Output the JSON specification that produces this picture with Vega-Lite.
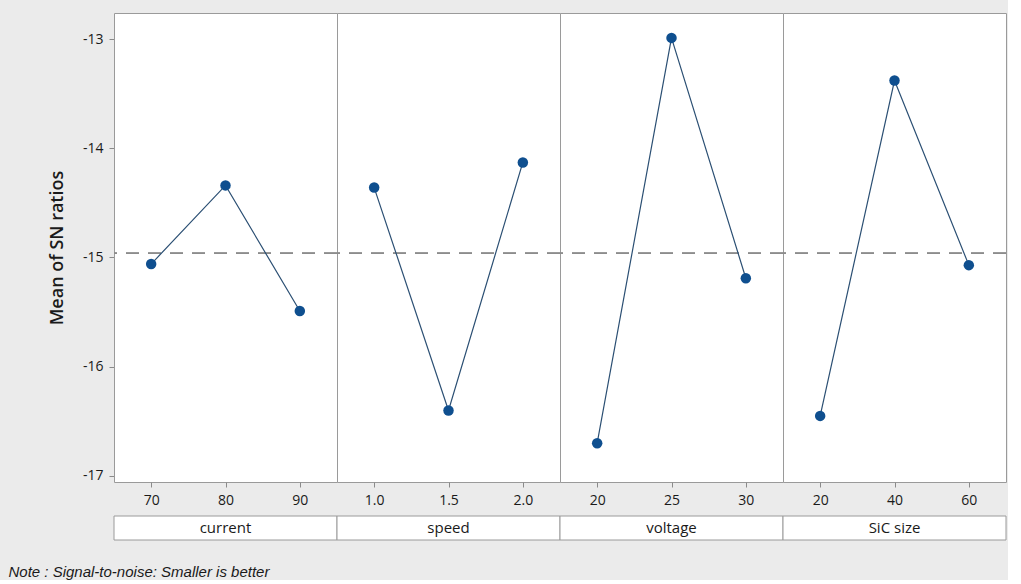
{
  "$schema": "https://vega.github.io/schema/vega-lite/v6.json",
  "background": "#ebebeb",
  "padding": {"left": 8, "top": 12, "right": 0, "bottom": 0},
  "datasets": {
    "effects": [
      {"factor": "current", "level": "70", "sn": -15.06},
      {"factor": "current", "level": "80", "sn": -14.34},
      {"factor": "current", "level": "90", "sn": -15.49},
      {"factor": "speed", "level": "1.0", "sn": -14.36},
      {"factor": "speed", "level": "1.5", "sn": -16.40},
      {"factor": "speed", "level": "2.0", "sn": -14.13},
      {"factor": "voltage", "level": "20", "sn": -16.70},
      {"factor": "voltage", "level": "25", "sn": -12.99},
      {"factor": "voltage", "level": "30", "sn": -15.19},
      {"factor": "SiC size", "level": "20", "sn": -16.45},
      {"factor": "SiC size", "level": "40", "sn": -13.38},
      {"factor": "SiC size", "level": "60", "sn": -15.07}
    ],
    "factors": [
      {"factor": "current"},
      {"factor": "speed"},
      {"factor": "voltage"},
      {"factor": "SiC size"}
    ]
  },
  "config": {
    "view": {"fill": "white", "stroke": "#9a9a9a", "strokeWidth": 1},
    "font": "Open Sans",
    "axis": {
      "domain": false,
      "grid": false,
      "tickColor": "#8a8a8a",
      "tickSize": 5,
      "labelFontSize": 14,
      "labelColor": "#1a1a1a",
      "labelFont": "Open Sans"
    }
  },
  "title": {
    "text": "Note : Signal-to-noise: Smaller is better",
    "orient": "bottom",
    "anchor": "start",
    "frame": "bounds",
    "font": "Liberation Sans",
    "fontStyle": "italic",
    "fontWeight": "normal",
    "fontSize": 15,
    "color": "#1a1a1a",
    "offset": 24,
    "dx": -40
  },
  "spacing": 7,
  "vconcat": [
    {
      "data": {"name": "effects"},
      "facet": {
        "column": {
          "field": "factor",
          "type": "nominal",
          "sort": ["current", "speed", "voltage", "SiC size"],
          "header": null
        }
      },
      "spacing": 0,
      "bounds": "flush",
      "resolve": {"scale": {"x": "independent"}},
      "spec": {
        "width": 223,
        "height": 469,
        "layer": [
          {
            "mark": {"type": "rule", "color": "#8c8c8c", "strokeDash": [13, 9], "strokeWidth": 1.5},
            "encoding": {
              "y": {"datum": -14.96, "type": "quantitative"}
            }
          },
          {
            "mark": {"type": "line", "color": "#2b4f73", "strokeWidth": 1.2},
            "encoding": {
              "x": {"field": "level", "type": "ordinal", "title": null, "scale": {"padding": 0.5}, "axis": {"labelAngle": 0, "labelPadding": 6}},
              "y": {
                "field": "sn",
                "type": "quantitative",
                "title": "Mean of SN ratios",
                "scale": {"domain": [-17.055, -12.762], "nice": false, "zero": false},
                "axis": {"values": [-17, -16, -15, -14, -13], "labelExpr": "datum.value + ''", "labelPadding": 6, "titleFontSize": 18, "titleFontWeight": 600, "titleColor": "#1a1a1a", "titlePadding": 16}
              }
            }
          },
          {
            "mark": {"type": "point", "filled": true, "color": "#0f4f8f", "size": 110, "opacity": 1},
            "encoding": {
              "x": {"field": "level", "type": "ordinal"},
              "y": {"field": "sn", "type": "quantitative"}
            }
          }
        ]
      }
    },
    {
      "data": {"name": "factors"},
      "facet": {
        "column": {
          "field": "factor",
          "type": "nominal",
          "sort": ["current", "speed", "voltage", "SiC size"],
          "header": null
        }
      },
      "spacing": 0,
      "bounds": "flush",
      "spec": {
        "width": 223,
        "height": 24,
        "layer": [
          {
            "mark": {"type": "rect", "fill": "white", "stroke": "#9a9a9a", "strokeWidth": 1},
            "encoding": {}
          },
          {
            "mark": {"type": "text", "fontSize": 15, "font": "Open Sans", "color": "#1a1a1a"},
            "encoding": {
              "text": {"field": "factor", "type": "nominal"}
            }
          }
        ]
      }
    }
  ]
}
